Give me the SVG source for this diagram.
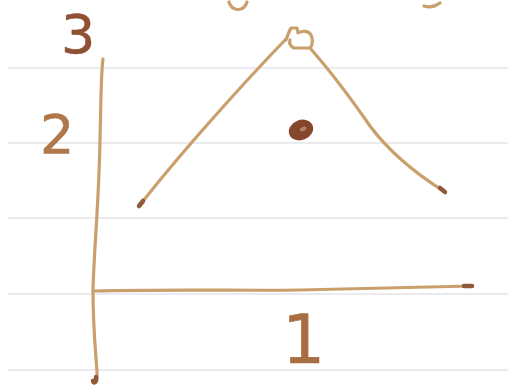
<svg xmlns="http://www.w3.org/2000/svg" width="508" height="390" viewBox="0 0 508 390">
<style>
.rule{stroke:#ebebef;stroke-width:2;fill:none}
.ink{stroke:#c9a06c;stroke-width:3.2;fill:none;stroke-linecap:round;stroke-linejoin:round}
.tip{stroke:#8e5a3a;stroke-width:4.5;fill:none;stroke-linecap:round}
.num{font-family:"DejaVu Sans","Liberation Sans",sans-serif;stroke-width:0.6;stroke-linejoin:round}
</style>
<rect width="508" height="390" fill="#ffffff"/>
<g id="paper">
<line class="rule" x1="8" y1="68" x2="508" y2="68"/>
<line class="rule" x1="8" y1="143" x2="508" y2="143"/>
<line class="rule" x1="8" y1="218" x2="508" y2="218"/>
<line class="rule" x1="8" y1="294" x2="508" y2="294"/>
<line class="rule" x1="8" y1="370" x2="508" y2="370"/>
</g>
<g id="top-marks">
<path class="ink" d="M229,2 C232,12 244,12 247,2" stroke="#c39a66" stroke-width="4"/>
<path class="ink" d="M424,6 C430,8 436,6 440,3" stroke="#dcc4a0"/>
</g>
<g id="connectors">
<path id="axis-vertical" class="ink" d="M103,59 C101,72 101,100 100,140 C99,200 94,250 93,290 C93,330 96,355 97,372 C98,381 93,385 93,380"/>
<path class="tip" d="M96,377 C97,382 94,384 93,381"/>
<path id="axis-horizontal" class="ink" d="M93,291 C180,289 250,291 300,290 C380,288 440,287 472,286"/>
<path class="tip" d="M464,286 L472,286"/>
<path id="left-side" class="ink" d="M140,205 C175,160 235,92 286,39"/>
<path class="tip" d="M139,206 L143,201"/>
<path id="apex-loop" class="ink" d="M286,40 C288,35 289,31 291,28 L297,28 L298,33 C303,30 309,31 311,35 C313,39 313,45 310,48 L294,48 C290,46 289,43 290,40"/>
<path id="right-side" class="ink" d="M310,48 C332,73 352,100 370,126 C390,153 418,175 445,192"/>
<path class="tip" d="M440,188 L445,192"/>
</g>
<g id="dot">
<ellipse cx="301" cy="130" rx="12.5" ry="10" transform="rotate(-22 301 130)" fill="#86462c"/>
<ellipse cx="303" cy="129" rx="3.5" ry="2" transform="rotate(-22 303 129)" fill="#b2826a"/>
</g>
<g id="label-3"><text class="num" x="61" y="53" font-size="54" fill="#8f5033" stroke="#8f5033">3</text></g>
<g id="label-2"><text class="num" x="40" y="153" font-size="54" fill="#b0784a" stroke="#b0784a">2</text></g>
<g id="label-1"><text class="num" x="282" y="363" font-size="68" fill="#a86e42" stroke="#a86e42">1</text></g>
</svg>
